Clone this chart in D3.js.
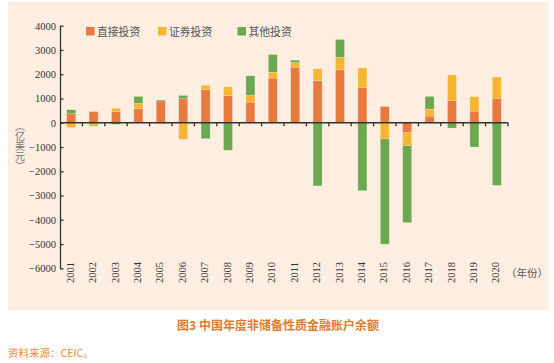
<!DOCTYPE html>
<html>
<head>
<meta charset="utf-8">
<script src="https://cdn.jsdelivr.net/npm/d3@7"></script>
<style>
  body { margin: 0; background: #fff; }
  svg { display: block; }
  .vt { writing-mode: vertical-rl; text-orientation: mixed; }
</style>
</head>
<body>
<svg id="chart" width="554" height="363" viewBox="0 0 554 363"></svg>
<script>
// data (亿美元)
const years = ["2001","2002","2003","2004","2005","2006","2007","2008","2009","2010",
               "2011","2012","2013","2014","2015","2016","2017","2018","2019","2020"]
const fdi = [370, 460, 470, 590, 900, 990, 1370, 1120, 850, 1840, 2290, 1740, 2180, 1440, 670, -410, 275, 920, 480, 1010]
const portfolio = [-200, -105, 120, 210, -45, -685, 175, 360, 275, 245, 190, 490, 510, 820, -670, -535, 290, 1055, 590, 875]
const other = [165, -40, -65, 285, 40, 135, -655, -1135, 810, 725, 100, -2605, 740, -2800, -4335, -3170, 520, -220, -1000, -2580]
const seriesNames = ["直接投资", "证券投资", "其他投资"]
const yTicks = [4000, 3000, 2000, 1000, 0, -1000, -2000, -3000, -4000, -5000, -6000]

const colors = ["#E8793F", "#F6B632", "#6CA84F"]
const cjk = '"Noto Sans CJK SC", sans-serif'
const serif = '"Liberation Serif", "DejaVu Serif", serif'

const svg = d3.select("#chart")

// panel background
svg.append("rect")
    .attr("x", 8).attr("y", 2)
    .attr("width", 541).attr("height", 308)
    .attr("fill", "#FDEEE1")

const rows = years.map((y, i) => ({year: y, fdi: fdi[i], pi: portfolio[i], other: other[i]}))
const keys = ["fdi", "pi", "other"]

const stacked = d3.stack()
    .keys(keys)
    .offset(d3.stackOffsetDiverging)(rows)

const x = d3.scaleBand()
    .domain(years)
    .range([60, 508])
const barW = 9
const y = d3.scaleLinear()
    .domain([-6000, 4000])
    .range([268.3, 25.7])

// bars
svg.append("g")
    .selectAll("g")
    .data(stacked)
    .enter()
    .append("g")
    .attr("fill", (d, i) => colors[i])
    .selectAll("rect")
    .data(d => d)
    .enter()
    .append("rect")
    .attr("x", d => x(d.data.year) + (x.bandwidth() - barW) / 2)
    .attr("width", barW)
    .attr("y", d => y(Math.max(d[0], d[1])))
    .attr("height", d => Math.abs(y(d[0]) - y(d[1])))
    .attr("stroke", "rgba(255,255,255,0.35)")
    .attr("stroke-width", 0.6)

// y axis, ticks point inward
const yAxis = svg.append("g")
    .attr("transform", "translate(60,0)")
    .call(d3.axisLeft(y).tickValues(yTicks).tickFormat(d3.format("d"))
        .tickSizeInner(-3.5).tickSizeOuter(0).tickPadding(4))
    .attr("font-family", serif)
    .attr("font-size", 10.5)
yAxis.select(".domain").attr("stroke", "#333").attr("stroke-width", 1.3)
yAxis.selectAll(".tick line").attr("stroke", "#333").attr("stroke-width", 1.3)
yAxis.selectAll(".tick text").attr("fill", "#333")

// x axis on the zero line, ticks at band edges
const y0 = y(0)
const xAxis = svg.append("g")
xAxis.append("line")
    .attr("x1", 60).attr("x2", 508)
    .attr("y1", y0).attr("y2", y0)
    .attr("stroke", "#333").attr("stroke-width", 1.4)
xAxis.selectAll(".xt")
    .data(years)
    .enter()
    .append("line")
    .attr("x1", d => x(d) + x.bandwidth())
    .attr("x2", d => x(d) + x.bandwidth())
    .attr("y1", y0).attr("y2", y0 + 3.5)
    .attr("stroke", "#333").attr("stroke-width", 1.3)

// year labels, rotated
svg.append("g")
    .selectAll("text")
    .data(years)
    .enter()
    .append("text")
    .attr("transform", d => `translate(${x(d) + x.bandwidth() / 2 - 1},262) rotate(-90)`)
    .attr("text-anchor", "end")
    .attr("dy", "0.35em")
    .attr("font-family", serif)
    .attr("font-size", 10.5)
    .attr("fill", "#333")
    .text(d => d)

svg.append("text")
    .attr("x", 506).attr("y", 277)
    .attr("font-family", cjk)
    .attr("font-size", 10.5)
    .attr("fill", "#555")
    .text("（年份）")

// y axis title, vertical writing
svg.append("text")
    .attr("class", "vt")
    .attr("x", 20).attr("y", 146.5)
    .attr("text-anchor", "middle")
    .attr("font-family", cjk)
    .attr("font-size", 10)
    .attr("fill", "#777")
    .text("（亿美元）")

// legend
const legendX = [86, 158, 237.5]
const legend = svg.append("g")
    .selectAll("g")
    .data(seriesNames)
    .enter()
    .append("g")
    .attr("transform", (d, i) => `translate(${legendX[i]},27)`)
legend.append("rect")
    .attr("width", 8.5).attr("height", 8.5)
    .attr("fill", (d, i) => colors[i])
legend.append("text")
    .attr("x", 11).attr("y", 8.5)
    .attr("font-family", cjk)
    .attr("font-size", 10.8)
    .attr("fill", "#555")
    .text(d => d)

// caption
svg.append("text")
    .attr("x", 278).attr("y", 330)
    .attr("text-anchor", "middle")
    .attr("font-family", cjk)
    .attr("font-weight", "bold")
    .attr("font-size", 12)
    .attr("fill", "#E2792C")
    .text("图3 中国年度非储备性质金融账户余额")

svg.append("text")
    .attr("x", 8).attr("y", 357)
    .attr("font-family", cjk)
    .attr("font-size", 10.5)
    .attr("fill", "#E8873A")
    .text("资料来源：CEIC。")
</script>
</body>
</html>
